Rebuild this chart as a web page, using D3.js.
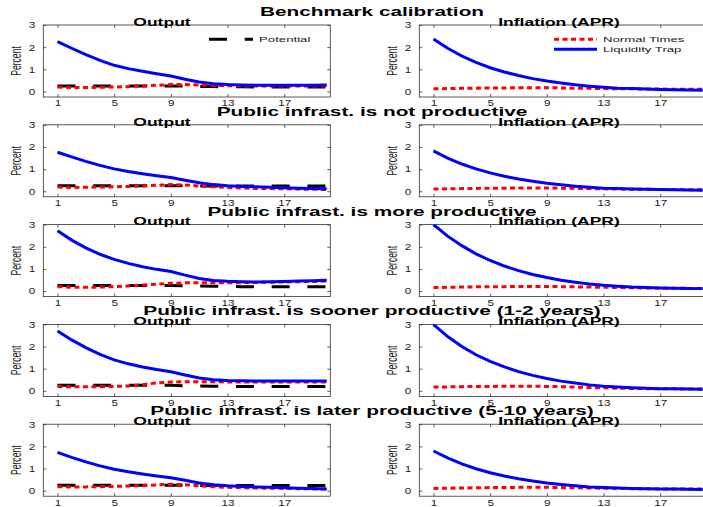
<!DOCTYPE html>
<html>
<head>
<meta charset="utf-8">
<script src="https://cdn.jsdelivr.net/npm/d3@7"></script>
<style>
  body { margin: 0; background: #fff; }
  svg { display: block; font-family: "Liberation Sans", Arial, sans-serif; }
</style>
</head>
<body>
<svg id="chart" width="703" height="507"></svg>
<script>
// ---- data ----
const periods = d3.range(1, 21);
const xTicks = [1, 5, 9, 13, 17];
const yTicks = [0, 1, 2, 3];

const rowTitles = [
  'Benchmark calibration',
  'Public infrast. is not productive',
  'Public infrast. is more productive',
  'Public infrast. is sooner productive (1-2 years)',
  'Public infrast. is later productive (5-10 years)',
];
const panelTitles = ['Output', 'Inflation (APR)'];

// Output, liquidity trap (blue)
const outputTrap = [
  [2.25, 1.95, 1.66, 1.40, 1.18, 1.03, 0.91, 0.80, 0.70, 0.55, 0.43, 0.35, 0.31, 0.29, 0.28, 0.28, 0.28, 0.28, 0.28, 0.29],
  [1.76, 1.55, 1.35, 1.17, 1.01, 0.89, 0.79, 0.70, 0.62, 0.50, 0.38, 0.30, 0.25, 0.22, 0.20, 0.18, 0.16, 0.14, 0.13, 0.11],
  [2.72, 2.30, 1.95, 1.66, 1.43, 1.25, 1.10, 0.98, 0.88, 0.72, 0.57, 0.48, 0.44, 0.42, 0.41, 0.42, 0.43, 0.45, 0.47, 0.49],
  [2.70, 2.30, 1.95, 1.65, 1.40, 1.22, 1.08, 0.96, 0.86, 0.72, 0.58, 0.50, 0.47, 0.46, 0.45, 0.45, 0.45, 0.45, 0.45, 0.45],
  [1.73, 1.50, 1.30, 1.12, 0.97, 0.85, 0.75, 0.66, 0.58, 0.47, 0.35, 0.27, 0.22, 0.19, 0.17, 0.15, 0.13, 0.11, 0.10, 0.08],
];
// Output, normal times (red dotted)
const outputNormal = [
  [0.20, 0.18, 0.18, 0.19, 0.20, 0.22, 0.25, 0.28, 0.31, 0.31, 0.29, 0.27, 0.26, 0.25, 0.25, 0.25, 0.25, 0.25, 0.25, 0.25],
  [0.19, 0.17, 0.18, 0.19, 0.20, 0.22, 0.24, 0.27, 0.30, 0.28, 0.24, 0.20, 0.17, 0.15, 0.13, 0.12, 0.11, 0.10, 0.09, 0.08],
  [0.20, 0.17, 0.17, 0.18, 0.20, 0.23, 0.27, 0.31, 0.35, 0.37, 0.38, 0.38, 0.38, 0.38, 0.39, 0.40, 0.41, 0.42, 0.43, 0.45],
  [0.20, 0.18, 0.18, 0.19, 0.20, 0.22, 0.28, 0.36, 0.40, 0.41, 0.41, 0.41, 0.40, 0.40, 0.40, 0.40, 0.40, 0.40, 0.40, 0.40],
  [0.18, 0.17, 0.17, 0.18, 0.19, 0.21, 0.23, 0.26, 0.29, 0.27, 0.22, 0.18, 0.15, 0.13, 0.12, 0.11, 0.10, 0.09, 0.08, 0.07],
];
// Output, potential (black dashed)
const outputPotential = [
  [0.25, 0.25, 0.25, 0.25, 0.25, 0.25, 0.25, 0.25, 0.25, 0.24, 0.23, 0.22, 0.21, 0.21, 0.20, 0.20, 0.20, 0.20, 0.20, 0.20],
  [0.25, 0.25, 0.25, 0.25, 0.25, 0.25, 0.25, 0.25, 0.25, 0.25, 0.24, 0.24, 0.24, 0.24, 0.24, 0.24, 0.24, 0.24, 0.24, 0.24],
  [0.25, 0.25, 0.25, 0.25, 0.25, 0.25, 0.25, 0.25, 0.25, 0.24, 0.23, 0.22, 0.21, 0.20, 0.20, 0.20, 0.20, 0.20, 0.20, 0.20],
  [0.25, 0.25, 0.25, 0.25, 0.25, 0.25, 0.25, 0.25, 0.25, 0.23, 0.22, 0.21, 0.20, 0.20, 0.20, 0.20, 0.20, 0.20, 0.20, 0.20],
  [0.24, 0.24, 0.24, 0.24, 0.24, 0.24, 0.24, 0.24, 0.24, 0.24, 0.23, 0.23, 0.23, 0.23, 0.23, 0.23, 0.23, 0.23, 0.23, 0.23],
];
// Inflation, liquidity trap (blue)
const inflationTrap = [
  [2.37, 1.95, 1.60, 1.31, 1.07, 0.88, 0.72, 0.58, 0.47, 0.38, 0.30, 0.24, 0.19, 0.15, 0.13, 0.11, 0.09, 0.08, 0.07, 0.06],
  [1.82, 1.50, 1.23, 1.01, 0.83, 0.68, 0.55, 0.45, 0.36, 0.29, 0.23, 0.18, 0.14, 0.12, 0.10, 0.09, 0.08, 0.07, 0.06, 0.05],
  [3.00, 2.48, 2.05, 1.68, 1.38, 1.13, 0.92, 0.75, 0.61, 0.49, 0.40, 0.32, 0.26, 0.22, 0.18, 0.16, 0.14, 0.13, 0.12, 0.11],
  [3.00, 2.45, 2.00, 1.63, 1.33, 1.08, 0.87, 0.70, 0.56, 0.44, 0.35, 0.27, 0.21, 0.17, 0.14, 0.12, 0.10, 0.09, 0.08, 0.07],
  [1.79, 1.48, 1.21, 0.99, 0.81, 0.66, 0.54, 0.44, 0.35, 0.28, 0.22, 0.17, 0.14, 0.12, 0.10, 0.09, 0.08, 0.07, 0.06, 0.05],
];
// Inflation, normal times (red dotted)
const inflationNormal = [
  [0.12, 0.13, 0.14, 0.15, 0.16, 0.16, 0.17, 0.17, 0.17, 0.16, 0.15, 0.14, 0.13, 0.12, 0.12, 0.11, 0.11, 0.10, 0.10, 0.10],
  [0.10, 0.11, 0.12, 0.13, 0.14, 0.14, 0.15, 0.15, 0.15, 0.14, 0.13, 0.12, 0.11, 0.10, 0.09, 0.09, 0.08, 0.08, 0.07, 0.07],
  [0.16, 0.17, 0.18, 0.19, 0.20, 0.20, 0.21, 0.21, 0.21, 0.20, 0.19, 0.18, 0.17, 0.16, 0.15, 0.14, 0.13, 0.13, 0.12, 0.12],
  [0.17, 0.18, 0.19, 0.20, 0.20, 0.21, 0.21, 0.21, 0.20, 0.19, 0.17, 0.15, 0.14, 0.12, 0.11, 0.10, 0.09, 0.09, 0.08, 0.08],
  [0.10, 0.11, 0.12, 0.13, 0.14, 0.14, 0.15, 0.15, 0.15, 0.14, 0.13, 0.12, 0.11, 0.10, 0.09, 0.09, 0.08, 0.08, 0.07, 0.07],
];

// ---- layout ----
const ROW_TOP = 25, ROW_STEP = 99.8, PH = 72;
const COLS = [
  { x0: 43.3, x1: 330.3, titleX: 162 },
  { x0: 419.3, x1: 706.3, titleX: 559 },
];
const AXIS_COL = '#333';
const STYLE = {
  trap:      { color: '#0000ff', width: 3, dash: null },
  normal:    { color: '#ff0000', width: 3, dash: '5,3.5' },
  potential: { color: '#000000', width: 3, dash: '18,17.7' },
};

const svg = d3.select('#chart');

// text in the original is stretched sideways, so every label gets an x-scale
function stretchedText(parent, str, x, y, fs, sx, opts = {}) {
  return parent.append('text')
    .attr('transform', `translate(${x},${y}) scale(${sx},1)`)
    .attr('font-size', fs)
    .attr('font-weight', opts.weight || 'normal')
    .attr('text-anchor', opts.anchor || 'start')
    .attr('fill', opts.fill || '#000')
    .text(str);
}

function drawPanel(row, colIdx, series, legend) {
  const col = COLS[colIdx];
  const top = ROW_TOP + row * ROW_STEP;
  const x = d3.scaleLinear().domain([0, 20.25]).range([col.x0, col.x1]);
  const y = d3.scaleLinear().domain([-0.25, 3]).range([top + PH, top]);
  const g = svg.append('g');

  const clipId = `clip-${row}-${colIdx}`;
  g.append('clipPath').attr('id', clipId)
    .append('rect').attr('x', col.x0).attr('y', top).attr('width', col.x1 - col.x0).attr('height', PH);

  // axes (MATLAB style: ticks inward on all four sides)
  const bottom = g.append('g').attr('transform', `translate(0,${top + PH})`)
    .call(d3.axisBottom(x).tickValues(xTicks).tickSizeInner(-3).tickSizeOuter(0).tickPadding(3));
  const topAx = g.append('g').attr('transform', `translate(0,${top})`)
    .call(d3.axisTop(x).tickValues(xTicks).tickSizeInner(-3).tickSizeOuter(0).tickFormat(''));
  const left = g.append('g').attr('transform', `translate(${col.x0},0)`)
    .call(d3.axisLeft(y).tickValues(yTicks).tickFormat(d3.format('d'))
      .tickSizeInner(-3).tickSizeOuter(0).tickPadding(8));
  const right = g.append('g').attr('transform', `translate(${col.x1},0)`)
    .call(d3.axisRight(y).tickValues(yTicks).tickSizeInner(-3).tickSizeOuter(0).tickFormat(''));
  [bottom, topAx, left, right].forEach(a => {
    a.select('.domain').remove();
    a.selectAll('line').attr('stroke', AXIS_COL).attr('stroke-width', 0.8);
    a.selectAll('text').attr('font-size', 9).attr('fill', '#222')
      .attr('font-family', '"Liberation Sans", Arial, sans-serif');
  });
  bottom.selectAll('text').attr('transform', 'scale(1.3,1)');
  left.selectAll('text').attr('x', -8 / 1.3).attr('transform', 'scale(1.3,1)');

  g.append('rect')
    .attr('x', col.x0).attr('y', top)
    .attr('width', col.x1 - col.x0).attr('height', PH)
    .attr('fill', 'none').attr('stroke', AXIS_COL).attr('stroke-width', 0.8);

  // lines
  const line = d3.line().x((d, i) => x(periods[i])).y(d => y(d));
  const lines = g.append('g').attr('clip-path', `url(#${clipId})`);
  series.forEach(s => {
    lines.append('path')
      .datum(s.values)
      .attr('d', line)
      .attr('fill', 'none')
      .attr('stroke', s.style.color)
      .attr('stroke-width', s.style.width)
      .attr('stroke-dasharray', s.style.dash);
  });

  // y label
  g.append('text')
    .attr('transform', `translate(${col.x0 - 22.5},${top + PH / 2}) scale(1.7,1) rotate(-90)`)
    .attr('text-anchor', 'middle')
    .attr('font-size', 8.6)
    .attr('fill', '#222')
    .text('Percent');

  // panel title
  stretchedText(g, panelTitles[colIdx], col.titleX, top + 0.8, 10.5, 1.67, { weight: 'bold', anchor: 'middle' });

  // legend
  if (legend) {
    legend.forEach((item, k) => {
      const ly = top + 14.3 + k * 10;
      g.append('line')
        .attr('x1', item.x1).attr('x2', item.x2).attr('y1', ly).attr('y2', ly)
        .attr('stroke', item.style.color).attr('stroke-width', item.style.width)
        .attr('stroke-dasharray', item.style.dash);
      stretchedText(g, item.label, item.x2 + 6, ly + 2.8, 8, 1.65, { fill: '#222' });
    });
  }
}

rowTitles.forEach((title, r) => {
  stretchedText(svg, title, 372, 16 + r * ROW_STEP, 13, 1.6, { weight: 'bold', anchor: 'middle' });

  drawPanel(r, 0, [
    { values: outputPotential[r], style: STYLE.potential },
    { values: outputNormal[r], style: STYLE.normal },
    { values: outputTrap[r], style: STYLE.trap },
  ], r === 0 ? [{ label: 'Potential', style: STYLE.potential, x1: 209, x2: 253 }] : null);

  drawPanel(r, 1, [
    { values: inflationNormal[r], style: STYLE.normal },
    { values: inflationTrap[r], style: STYLE.trap },
  ], r === 0 ? [
    { label: 'Normal Times', style: STYLE.normal, x1: 554, x2: 597 },
    { label: 'Liquidity Trap', style: STYLE.trap, x1: 554, x2: 597 },
  ] : null);
});
</script>
</body>
</html>
